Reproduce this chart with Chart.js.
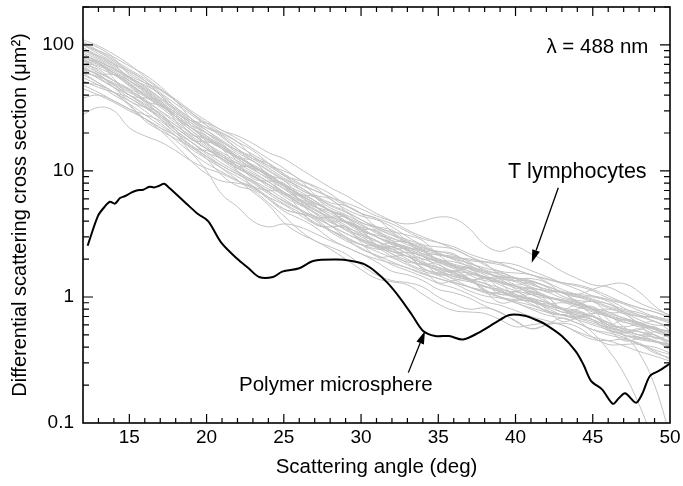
<!DOCTYPE html>
<html lang="en">
<head>
<meta charset="UTF-8">
<title>Differential scattering cross section</title>
<script src="https://cdn.jsdelivr.net/npm/chart.js"></script>
<style>
    body { margin: 0; background: #fff; }
    canvas { display: block; }
</style>
</head>
<body>
<canvas id="scatterChart" width="683" height="486"></canvas>
<script>
// scattering angles (deg) for the T lymphocyte curves
const angles = [12,13,14,15,16,17,18,19,20,21,22,23,24,25,26,27,28,29,30,31,
                32,33,34,35,36,37,38,39,40,41,42,43,44,45,46,47,48,49,50];

// T lymphocytes, one curve per cell (um^2)
const tcell01 = [105,95,80,68,58,47,36,29,24,20, 17,14.5,11.5,9.2,8.4,7.4,6.0,5.0,4.4,4.1, 3.6,3.0,2.6,2.5,2.4,2.1,1.8,1.6,1.55,1.5, 1.32,1.15,1.05,1.02,0.95,0.82,0.72,0.68,0.64];
const tcell02 = [28,32,30,22,19,17,14.5,12,10.5,9.5, 8.3,7.5,6.2,5.0,4.6,4.4,3.7,3.0,2.6,2.4, 2.3,2.0,1.7,1.5,1.5,1.38,1.15,1.0,0.95,0.92, 0.82,0.72,0.68,0.64,0.56,0.5,0.48,0.45,0.38];
const tcell03 = [90,82,70,55,48,41,32,26,22,19, 15,12.5,11.5,9.4,7.2,6.4,6.0,4.8,3.9,3.6, 3.4,2.8,2.4,2.3,2.2,1.8,1.6,1.55,1.4,1.2, 1.12,1.08,0.92,0.8,0.8,0.74,0.62,0.56,0.54];
const tcell04 = [60,50,42,33,26,21,16,12,9.5,8.3, 8.0,7.4,6.0,5.0,4.6,4.2,3.4,2.9,2.6,2.5, 2.2,1.85,1.65,1.55,1.38,1.2,1.1,1.05,1.0,0.88, 0.78,0.72,0.7,0.66,0.58,0.5,0.46,0.44,0.42];
const tcell05 = [100,88,74,62,52,42,34,28,23,19.5, 16,13.5,11.5,9.5,8.0,7.0,6.2,5.6,5.0,4.4, 4.0,3.8,4.0,4.3,4.2,3.5,2.6,2.3,2.5,2.2, 1.9,1.6,1.4,1.25,1.2,1.05,0.9,0.8,0.72];
const tcell06 = [80,72,62,52,44,36,29,24,19,16, 13.5,11,9.2,7.8,6.9,5.8,4.8,4.3,3.8,3.2, 2.9,2.7,2.35,2.0,1.9,1.75,1.55,1.45,1.4,1.28, 1.15,1.1,1.05,1.15,1.25,1.28,1.1,0.85,0.7];
const tcell07 = [70,64,52,44,36,28,22,18,15,12.5, 10.5,9.2,7.5,6.5,5.6,4.6,3.9,3.5,3.0,2.6, 2.3,2.1,1.85,1.65,1.55,1.35,1.2,1.15,1.05,0.92, 0.85,0.8,0.66,0.52,0.38,0.25,0.14,0.07,0.04];
const tcell08 = [65,58,48,40,33,27,22,18,15,13, 11,9.5,8.2,6.8,5.6,4.9,4.1,3.4,3.1,2.8, 2.4,2.1,2.0,1.8,1.6,1.55,1.42,1.25,1.12,1.05, 0.92,0.82,0.78,0.7,0.6,0.5,0.36,0.2,0.08];
const tcell09 = [55,48,40,34,28,23,19,15,12.5,10.5, 9.0,7.5,6.0,4.8,4.2,3.6,2.9,2.5,2.2,1.9, 1.6,1.5,1.35,1.15,1.08,0.98,0.85,0.75,0.65,0.56, 0.6,0.68,0.62,0.55,0.52,0.48,0.42,0.4,0.36];
const tcell10 = [78,66,58,50,40,33,28,22,18,15.5, 12.5,10.5,9.4,7.6,6.0,5.5,4.8,3.9,3.3,3.1, 2.8,2.3,2.0,1.95,1.8,1.5,1.35,1.32,1.22,1.05, 0.98,0.95,0.86,0.76,0.7,0.64,0.58,0.56,0.52];
const tcell11 = [85,72,60,49,41,35,27,22,19,15, 12.8,11.2,9.5,7.8,6.6,5.8,4.8,4.0,3.6,3.3, 2.7,2.45,2.3,1.95,1.75,1.68,1.5,1.3,1.22,1.16, 1.02,0.95,0.9,0.8,0.7,0.66,0.62,0.56,0.5];
const tcell12 = [68,57,50,43,35,28,23,19,15.5,12.5, 10.5,9.2,7.8,6.3,5.4,4.7,4.0,3.4,2.9,2.6, 2.4,2.1,1.85,1.7,1.55,1.38,1.28,1.12,1.02,0.98, 0.9,0.8,0.72,0.7,0.63,0.55,0.5,0.48,0.45];
const tcell13 = [110,98,84,70,56,45,37,30,25,21, 19,16.5,14,12.5,10.5,8.8,7.4,6.4,5.4,4.6, 4.0,3.4,3.0,2.7,2.4,2.1,1.9,1.8,1.65,1.5, 1.38,1.28,1.15,1.02,0.95,0.88,0.78,0.7,0.66];
const tcell14 = [62,55,46,38,32,27,21,17,14,11.5, 9.8,8.4,7.2,6.0,5.0,4.3,3.7,3.2,2.8,2.5, 2.1,1.9,1.8,1.6,1.4,1.32,1.22,1.1,0.98,0.92, 0.84,0.76,0.72,0.66,0.58,0.54,0.5,0.45,0.4];
const tcell15 = [95,80,68,56,47,38,31,25,21,17.5, 14.5,12,10,8.4,7.2,6.2,5.1,4.5,3.9,3.5, 3.1,2.7,2.45,2.3,2.15,1.95,1.9,1.88,1.8,1.62, 1.45,1.3,1.22,1.12,0.98,0.9,0.82,0.76,0.68];
const tcell16 = [48,42,36,31,26,22,17.5,14,11.5,9.8, 8.4,7.2,6.2,5.4,4.5,3.8,3.4,2.9,2.4,2.15, 1.9,1.7,1.52,1.4,1.28,1.12,1.02,0.98,0.9,0.8, 0.72,0.68,0.62,0.55,0.5,0.47,0.43,0.38,0.35];
const tcell17 = [58,50,42,36,30,24,19,14,10,6.5, 5.2,4.0,3.6,3.8,3.6,3.2,2.8,2.5,2.2,2.0, 1.85,1.7,1.55,1.4,1.3,1.2,1.08,1.0,0.9,0.82, 0.76,0.72,0.66,0.6,0.55,0.5,0.47,0.44,0.41];
const tcell18 = [72,68,60,52,43,34,27,21,17.5,15, 13,11,9.0,7.6,6.4,5.3,4.4,3.9,3.5,3.0, 2.6,2.4,2.15,1.9,1.72,1.6,1.42,1.3,1.22,1.12, 1.0,0.94,0.88,0.8,0.72,0.66,0.6,0.53,0.48];
const tcell19 = [88,76,64,54,45,37,30,24,20,16.5, 13.0,12.0,9.4,8.4,6.6,6.2,4.8,4.4,3.5,3.4, 2.8,2.7,2.2,2.15,1.75,1.72,1.42,1.45,1.25,1.3, 1.1,1.1,0.9,0.92,0.76,0.74,0.62,0.64,0.54];
const tcell20 = [52,46,42,38,32,26,21,17,13.5,11, 9.5,8.2,6.8,5.8,5.0,4.3,3.7,3.2,2.85,2.55, 2.2,1.95,1.8,1.62,1.45,1.35,1.22,1.1,1.02,0.94, 0.86,0.8,0.76,0.7,0.62,0.56,0.53,0.5,0.44];
const tcell21 = [100,85,72,60,50,40,32,26,21,17, 14,12,10.2,8.6,7.5,6.3,5.3,4.7,4.1,3.5, 3.1,2.85,2.55,2.25,2.0,1.85,1.65,1.5,1.42,1.35, 1.22,1.1,1.02,0.94,0.84,0.78,0.72,0.64,0.58];
const tcell22 = [76,62,52,45,39,32,26,21,16.5,13.5, 11.5,9.8,8.2,6.8,5.8,5.0,4.2,3.6,3.2,2.8, 2.3,2.25,2.1,1.7,1.45,1.5,1.45,1.15,1.0,1.05, 1.0,0.8,0.7,0.74,0.72,0.58,0.5,0.53,0.5];
const tcell23 = [64,54,46,40,34,28,23,18.5,15,12.2, 10,8.3,6.9,5.7,4.9,4.1,3.3,2.8,2.45,2.1, 1.8,1.62,1.45,1.28,1.18,1.05,0.92,0.86,0.78,0.7, 0.65,0.6,0.53,0.48,0.45,0.41,0.37,0.34,0.31];
const tcell24 = [82,74,65,56,46,38,31,25,20,16, 13,10.8,9.2,7.8,6.5,5.6,4.8,4.0,3.4,3.0, 2.65,2.35,2.1,1.95,1.78,1.6,1.45,1.34,1.22,1.08, 1.0,0.92,0.83,0.78,0.7,0.63,0.6,0.55,0.5];
const tcell25 = [70,60,52,44,37,30,24,20,16.5,14, 12,10.2,8.8,7.6,6.5,5.6,4.9,4.3,3.7,3.3, 2.95,2.6,2.35,2.2,2.05,1.85,1.7,1.58,1.42,1.32, 1.22,1.1,1.04,0.96,0.88,0.8,0.75,0.68,0.62];
const tcell26 = [92,78,66,52,42,34,27,22,18,15, 12.5,10.4,8.6,7.2,5.9,4.9,4.3,3.7,3.1,2.75, 2.5,2.2,1.9,1.72,1.58,1.4,1.28,1.18,1.05,0.96, 0.9,0.8,0.74,0.7,0.6,0.56,0.53,0.48,0.44];
const tcell27 = [45,40,35,30,26,22,19,16,13,11, 9.4,8.0,6.6,5.5,4.7,3.9,3.4,3.0,2.6,2.3, 2.05,1.8,1.6,1.48,1.32,1.2,1.12,1.0,0.92,0.86, 0.78,0.72,0.68,0.62,0.57,0.53,0.48,0.45,0.42];
const tcell28 = [105,90,76,64,54,44,36,29,23,18.5, 15,12.5,10.6,8.8,7.5,6.3,5.4,4.8,4.1,3.6, 3.2,2.75,2.5,2.2,1.98,1.75,1.6,1.42,1.32,1.18, 1.1,0.98,0.92,0.82,0.76,0.68,0.63,0.57,0.53];
const tcell29 = [60,56,49,42,36,30,25,20,16,13, 10.8,9.2,7.8,6.6,5.5,4.7,3.7,3.6,2.8,2.5, 2.5,2.2,1.7,1.55,1.62,1.4,1.12,1.08,1.1,0.95, 0.76,0.72,0.76,0.66,0.54,0.52,0.56,0.5,0.42];
const tcell30 = [80,70,58,48,40,33,27,22,18.5,15.5, 13,10.8,9.0,7.3,6.3,5.2,4.6,3.9,3.4,3.0, 2.7,2.35,2.1,1.88,1.68,1.55,1.4,1.3,1.18,1.1, 1.0,0.94,0.86,0.8,0.74,0.68,0.62,0.57,0.52];
const tcell31 = [75,72,54,40,38,36,25,17.8,17,16, 11.8,8.7,8.3,8.0,5.9,4.35,4.3,4.25,3.2,2.45, 2.5,2.5,1.95,1.52,1.6,1.67,1.32,1.05,1.1,1.17, 0.94,0.76,0.8,0.84,0.66,0.52,0.55,0.58,0.46];
const tcell32 = [50,48,42,34,25,21,18,15.5,12.5,9.2, 7.6,7.0,5.6,4.4,3.4,2.8,2.5,2.2,1.8,1.5, 1.35,1.3,1.2,1.0,0.88,0.8,0.82,0.76,0.64,0.56, 0.6,0.62,0.58,0.48,0.42,0.42,0.42,0.37,0.32];
const tcell33 = [100,90,78,58,50,44,36,26,22,20, 17,13,11,10,8.6,6.5,5.6,5.3,4.6,3.6, 3.3,3.1,2.8,2.2,2.05,2.0,1.85,1.5,1.4,1.4, 1.3,1.08,1.0,1.0,0.92,0.76,0.7,0.7,0.64];
const tcell34 = [66,58,48,40,33,26,20,16,13,10.5, 8.5,6.8,5.4,3.9,3.2,2.8,2.4,2.0,1.65,1.4, 1.32,1.25,1.05,0.88,0.78,0.76,0.74,0.66,0.58,0.6, 0.62,0.6,0.52,0.46,0.45,0.46,0.42,0.36,0.33];
const tcell35 = [80,60,58,50,36,33,27,19.5,18,15, 11,10.8,9.0,6.6,6.4,5.4,4.0,4.0,3.5,2.6, 2.7,2.4,1.82,1.9,1.74,1.35,1.44,1.3,1.02,1.1, 1.02,0.8,0.87,0.8,0.6,0.66,0.6,0.47,0.5];
const tcell36 = [95,82,70,62,52,40,30,25,24,21, 18,15,12.5,10.5,8.6,7.6,6.6,5.4,4.6,4.2, 3.3,2.7,2.3,2.15,2.1,1.9,1.6,1.4,1.35,1.33, 1.2,1.02,0.94,0.92,0.88,0.76,0.66,0.6,0.6];
const tcell37 = [64,58,46,36,32,29,21,15.5,14.5,13.5, 10,7.6,7.0,6.8,5.0,3.8,3.6,3.6,2.7,2.1, 2.1,2.1,1.65,1.3,1.35,1.4,1.12,0.9,0.94,0.98, 0.8,0.64,0.68,0.7,0.56,0.45,0.47,0.5,0.4];
const tcell38 = [85,74,64,55,44,35,28,23,20,17, 14.5,13,11,9.2,7.8,7.0,6.2,5.3,4.6,4.2, 3.8,3.3,2.9,2.7,2.5,2.2,2.0,1.85,1.65,1.5, 1.4,1.3,1.25,1.15,1.02,0.9,0.82,0.76,0.7];
const tcell39 = [38,40,36,31,28,25,20,17,14,12.5, 10.5,9.0,7.8,6.8,5.8,5.2,4.4,3.9,3.5,3.0, 2.7,2.5,2.2,2.0,1.82,1.7,1.55,1.45,1.35,1.25, 1.15,1.08,1.0,0.92,0.82,0.76,0.7,0.64,0.58];
const tcell40 = [74,70,60,47,40,34,29,23,17,13, 11.5,10.5,9.5,7.6,6.0,5.2,4.8,4.4,3.4,2.6, 2.4,2.45,2.3,1.85,1.5,1.38,1.4,1.38,1.15,0.95, 0.88,0.9,0.86,0.72,0.6,0.58,0.6,0.56,0.48];

const lymphocytes = [tcell01, tcell02, tcell03, tcell04, tcell05, tcell06, tcell07, tcell08, tcell09, tcell10,
                     tcell11, tcell12, tcell13, tcell14, tcell15, tcell16, tcell17, tcell18, tcell19, tcell20,
                     tcell21, tcell22, tcell23, tcell24, tcell25, tcell26, tcell27, tcell28, tcell29, tcell30,
                     tcell31, tcell32, tcell33, tcell34, tcell35, tcell36, tcell37, tcell38, tcell39, tcell40];

// polymer microsphere (black curve)
const sphereAngles = [12.3,12.97,13.4,13.74,14.07,14.4,14.7,15.1,15.47,15.9,
                      16.3,16.6,16.9,17.25,17.5,17.83,18.7,19.4,20.1,20.95,
                      22.0,22.7,23.4,24.3,24.9,26.0,26.9,28.4,29.4,30.2,
                      30.9,31.7,32.5,33.3,34.0,34.8,35.7,36.6,37.6,38.7,
                      39.6,40.6,41.3,41.9,43.0,43.9,44.4,44.9,45.6,46.3,
                      46.7,47.1,47.8,48.2,48.7,49.3,50];
const sphereValues = [2.55,4.4,5.2,5.7,5.5,6.1,6.3,6.7,7.0,7.1,
                      7.5,7.4,7.6,7.9,7.5,6.9,5.5,4.6,4.0,2.7,
                      2.0,1.7,1.44,1.44,1.59,1.69,1.93,1.98,1.93,1.82,
                      1.6,1.3,0.99,0.72,0.54,0.49,0.49,0.46,0.52,0.625,
                      0.72,0.71,0.66,0.61,0.49,0.37,0.29,0.215,0.185,0.142,
                      0.158,0.172,0.145,0.17,0.236,0.26,0.296];

const xTickValues = [15, 20, 25, 30, 35, 40, 45, 50];
const yTickValues = [0.1, 1, 10, 100];
const yTickLabels = ['0.1', '1', '10', '100'];

const FONT = "'Liberation Sans', Arial, Helvetica, sans-serif";
const X_MIN = 12, X_MAX = 50, Y_MIN = 0.1, Y_MAX = 200;

function drawArrow(ctx, x1, y1, x2, y2) {
    const ang = Math.atan2(y2 - y1, x2 - x1);
    const len = 13, half = 4;
    const bx = x2 - len * Math.cos(ang), by = y2 - len * Math.sin(ang);
    ctx.beginPath();
    ctx.moveTo(x1, y1);
    ctx.lineTo(bx, by);
    ctx.stroke();
    ctx.beginPath();
    ctx.moveTo(x2, y2);
    ctx.lineTo(bx + half * Math.sin(ang), by - half * Math.cos(ang));
    ctx.lineTo(bx - half * Math.sin(ang), by + half * Math.cos(ang));
    ctx.closePath();
    ctx.fill();
}

// frame with inward ticks on all four sides + the text labels and arrows
const frameTicks = {
    id: 'frameTicks',
    afterDatasetsDraw(chart) {
        const { ctx, chartArea: a, scales: { x, y } } = chart;
        ctx.save();
        ctx.strokeStyle = '#000';
        ctx.fillStyle = '#000';
        ctx.lineWidth = 1.2;
        ctx.beginPath();
        for (let v = X_MIN + 1; v < X_MAX; v++) {
            const px = x.getPixelForValue(v);
            const len = v % 5 === 0 ? 9 : 5;
            ctx.moveTo(px, a.bottom); ctx.lineTo(px, a.bottom - len);
            ctx.moveTo(px, a.top); ctx.lineTo(px, a.top + len);
        }
        for (let d = 0.1; d < Y_MAX; d *= 10) {
            for (let k = 1; k <= 9; k++) {
                const v = d * k;
                if (v <= Y_MIN * 1.0001 || v > Y_MAX * 1.0001) continue;
                const py = y.getPixelForValue(v);
                const len = k === 1 ? 10 : 6;
                ctx.moveTo(a.left, py); ctx.lineTo(a.left + len, py);
                ctx.moveTo(a.right, py); ctx.lineTo(a.right - len, py);
            }
        }
        ctx.stroke();
        ctx.lineWidth = 1.6;
        ctx.strokeRect(a.left, a.top, a.width, a.height);

        ctx.font = '20.5px ' + FONT;
        ctx.textBaseline = 'middle';
        ctx.textAlign = 'right';
        ctx.fillText('\u03bb = 488 nm', x.getPixelForValue(48.6), y.getPixelForValue(95));
        ctx.textAlign = 'left';
        ctx.fillText('Polymer microsphere', x.getPixelForValue(22.1), y.getPixelForValue(0.2));
        ctx.font = '21.5px ' + FONT;
        ctx.textAlign = 'center';
        ctx.fillText('T lymphocytes', x.getPixelForValue(44.0), y.getPixelForValue(9.8));

        ctx.lineWidth = 1.3;
        drawArrow(ctx, x.getPixelForValue(42.77), y.getPixelForValue(7.37),
                       x.getPixelForValue(41.05), y.getPixelForValue(1.87));
        drawArrow(ctx, x.getPixelForValue(33.06), y.getPixelForValue(0.251),
                       x.getPixelForValue(34.14), y.getPixelForValue(0.537));
        ctx.restore();
    }
};

const datasets = [{
    label: 'Polymer microsphere',
    data: sphereAngles.map((a, i) => ({ x: a, y: sphereValues[i] })),
    borderColor: '#000',
    borderWidth: 2,
    tension: 0.3
}];
lymphocytes.forEach((vals, n) => {
    datasets.push({
        label: 'T lymphocyte ' + (n + 1),
        data: angles.map((a, i) => ({ x: a, y: vals[i] })),
        borderColor: '#c2c2c2',
        borderWidth: 1,
        tension: 0.4
    });
});

new Chart(document.getElementById('scatterChart'), {
    type: 'line',
    data: { datasets: datasets },
    options: {
        responsive: false,
        animation: false,
        layout: { padding: { left: 0, right: 13, top: 7, bottom: 0 } },
        elements: { point: { radius: 0 } },
        plugins: { legend: { display: false }, tooltip: { enabled: false } },
        scales: {
            x: {
                type: 'linear',
                min: X_MIN,
                max: X_MAX,
                afterBuildTicks: s => { s.ticks = xTickValues.map(v => ({ value: v })); },
                afterFit: s => { s.height = 63; s.paddingLeft = 0; s.paddingRight = 0; },
                grid: { display: false, drawTicks: false },
                border: { display: false },
                ticks: { color: '#000', font: { family: FONT, size: 19 }, padding: 3, maxRotation: 0, autoSkip: false },
                title: { display: true, text: 'Scattering angle (deg)', color: '#000',
                         font: { family: FONT, size: 20.5 }, padding: { top: 0, bottom: 6 } }
            },
            y: {
                type: 'logarithmic',
                min: Y_MIN,
                max: Y_MAX,
                afterBuildTicks: s => { s.ticks = yTickValues.map(v => ({ value: v })); },
                afterFit: s => { s.width = 83; s.paddingTop = 0; s.paddingBottom = 0; },
                grid: { display: false, drawTicks: false },
                border: { display: false },
                ticks: { color: '#000', font: { family: FONT, size: 19 }, padding: 9, autoSkip: false,
                         callback: v => yTickLabels[yTickValues.indexOf(v)] ?? '' },
                title: { display: true, text: 'Differential scattering cross section (\u03bcm\u00b2)', color: '#000',
                         font: { family: FONT, size: 20 }, padding: { top: 8, bottom: 0 } }
            }
        }
    },
    plugins: [frameTicks]
});
</script>
</body>
</html>
